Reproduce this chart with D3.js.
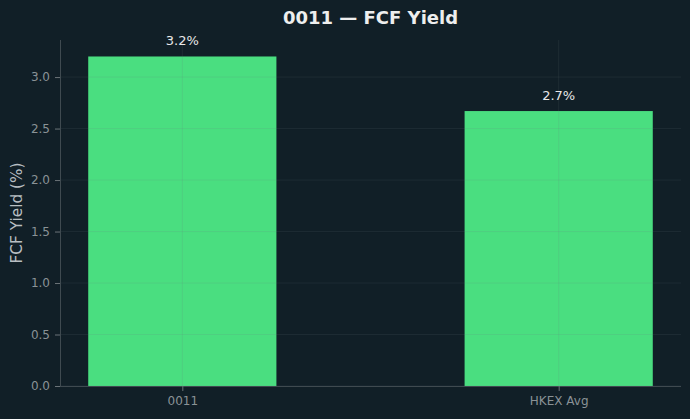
<!DOCTYPE html>
<html><head><meta charset="utf-8">
<script src="https://cdn.jsdelivr.net/npm/d3@7"></script>
<style>body{margin:0;background:#111f27;}svg{display:block;font-family:"DejaVu Sans",sans-serif;}</style>
</head><body>
<svg id="c" width="690" height="419"></svg>
<script>
const categories = ["0011", "HKEX Avg"];
const values = [3.2, 2.67];
const labels = ["3.2%", "2.7%"];
const yTicks = [0, 0.5, 1.0, 1.5, 2.0, 2.5, 3.0];

const W = 690, H = 419;
const m = {l: 60, r: 9, t: 40, b: 33};
const svg = d3.select("#c");
svg.append("rect").attr("width", W).attr("height", H).attr("fill", "#111f27");

const x = d3.scaleLinear().domain([-0.325, 1.325]).range([m.l, W - m.r]);
const y = d3.scaleLinear().domain([0, 3.36]).range([H - m.b, m.t]);
const bw = x(0.5) - x(0);

// bars
svg.selectAll("rect.bar").data(values).enter().append("rect")
  .attr("class", "bar")
  .attr("x", (d, i) => x(i) - bw / 2)
  .attr("y", d => y(d))
  .attr("width", bw)
  .attr("height", d => y(0) - y(d))
  .attr("fill", "#4ade80");

// grid (drawn on top)
const g = svg.append("g");
g.selectAll("line.h").data(yTicks).enter().append("line")
  .attr("x1", m.l).attr("x2", W - m.r)
  .attr("y1", d => y(d)).attr("y2", d => y(d))
  .attr("stroke", "#6a7a80").attr("stroke-opacity", 0.18).attr("stroke-width", 0.8);
g.selectAll("line.v").data(categories).enter().append("line")
  .attr("x1", (d, i) => x(i)).attr("x2", (d, i) => x(i))
  .attr("y1", m.t).attr("y2", H - m.b)
  .attr("stroke", "#6a7a80").attr("stroke-opacity", 0.18).attr("stroke-width", 0.8);

// axes
const yAxis = d3.axisLeft(y).tickValues(yTicks).tickFormat(d3.format(".1f")).tickSize(5).tickPadding(5);
const ya = svg.append("g").attr("transform", `translate(${m.l},0)`).call(yAxis);
const xAxis = d3.axisBottom(x).tickValues([0, 1]).tickFormat((d) => categories[d]).tickSize(5).tickPadding(5);
const xa = svg.append("g").attr("transform", `translate(0,${H - m.b})`).call(xAxis);
[ya, xa].forEach(a => {
  a.select(".domain").attr("stroke", "#3f4a50").attr("stroke-width", 1);
  a.selectAll(".tick line").attr("stroke", "#6b7378");
  a.selectAll(".tick text").attr("fill", "#8a9296").attr("font-size", 12).attr("font-family", "DejaVu Sans");
});
ya.select(".domain").attr("d", `M0.5,${m.t}V${H - m.b}`);
xa.select(".domain").attr("d", `M${m.l},0.5H${W - m.r}`);

// value labels
svg.selectAll("text.val").data(values).enter().append("text")
  .attr("x", (d, i) => x(i)).attr("y", d => y(d) - 11.5)
  .attr("text-anchor", "middle").attr("fill", "#e8e8e8").attr("font-size", 13)
  .text((d, i) => labels[i]);

// title
svg.append("text").attr("x", (m.l + W - m.r) / 2).attr("y", 24)
  .attr("text-anchor", "middle").attr("fill", "#eeeeee").attr("font-size", 18).attr("font-weight", "bold")
  .text("0011 — FCF Yield");

// y label
svg.append("text").attr("transform", `translate(22,${(m.t + H - m.b) / 2}) rotate(-90)`)
  .attr("text-anchor", "middle").attr("fill", "#b8bec2").attr("font-size", 15.3)
  .text("FCF Yield (%)");
</script>
</body></html>
